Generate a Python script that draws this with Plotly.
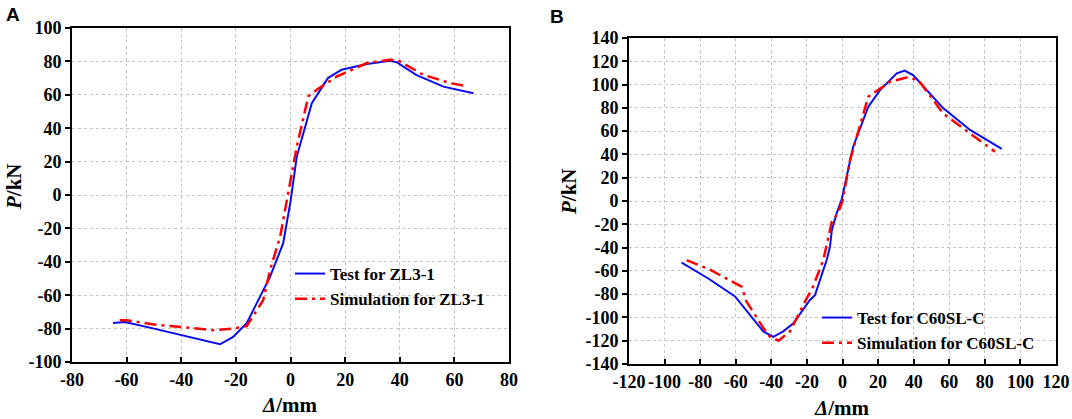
import plotly.graph_objects as go

# ---- Panel A data (ZL3-1) ----
testA_x = [-65, -60.6, -50, -40, -25.8, -21, -16, -7.5, -2.7, 0, 2.3, 7.8, 13.7, 18.7, 28, 36.4, 39, 46, 56, 67]
testA_y = [-76.6, -76, -80, -84, -89.4, -85, -76.6, -49, -29, -4, 23, 55, 70, 75, 78.4, 80.4, 79.4, 71.9, 64.9, 60.9]
simA_x = [-62.5, -60, -50, -40, -28, -21, -16, -10, -7.5, -3.8, -1.4, 2.3, 6.5, 9.6, 17, 28, 36.4, 39.5, 48.6, 58.4, 65]
simA_y = [-75, -75, -77.5, -79, -81, -80, -78.5, -63, -45, -25, -3, 29, 59, 63, 71, 79, 81, 80.5, 72, 67, 65]

# ---- Panel B data (C60SL-C) ----
testB_x = [-90.4, -75, -60.4, -44.5, -38.9, -33.3, -27.6, -18.3, -15.5, -8.9, -7, -6, -3.3, -0.5, 6, 14.5, 21, 30.5, 35, 39.8, 56.7, 71.7, 89.5]
testB_y = [-53, -67, -82, -112, -116.6, -112, -105, -85, -81, -50.7, -39, -25, -10.6, 0.9, 46.6, 81, 95, 109.7, 112, 108, 79.6, 61, 44.7]
simB_x = [-87.6, -74.5, -56.7, -53.9, -44.5, -40.8, -36, -29.5, -19.2, -17.3, -10.8, -6, -2.4, 0, 4.2, 14.5, 26.7, 36, 42.6, 56.7, 71.7, 85.7]
simB_y = [-50.7, -59, -73.6, -86.5, -109, -116.6, -120, -112, -80.8, -76.5, -50.7, -17.8, -10, 0, 35, 89.6, 102.4, 106, 104, 75, 58, 42.4]

names_A = ["Test for ZL3-1", "Simulation for ZL3-1"]
names_B = ["Test for C60SL-C", "Simulation for C60SL-C"]

# tick values (labels use plain hyphen-minus as in the original)
ticksA_x = list(range(-80, 81, 20))
ticksA_y = list(range(-100, 101, 20))
ticksB_x = list(range(-120, 121, 20))
ticksB_y = list(range(-140, 141, 20))

W, H = 1072, 419
BLUE = "#0a0af0"
RED = "#ff0000"
SERIF = "Liberation Serif"

fig = go.Figure()
fig.add_trace(go.Scatter(x=testA_x, y=testA_y, mode="lines", name=names_A[0],
                         line=dict(color=BLUE, width=2), xaxis="x", yaxis="y", legend="legend"))
fig.add_trace(go.Scatter(x=simA_x, y=simA_y, mode="lines", name=names_A[1],
                         line=dict(color=RED, width=2.5, dash="12px,5px,3px,5px"), xaxis="x", yaxis="y", legend="legend"))
fig.add_trace(go.Scatter(x=testB_x, y=testB_y, mode="lines", name=names_B[0],
                         line=dict(color=BLUE, width=2), xaxis="x2", yaxis="y2", legend="legend2"))
fig.add_trace(go.Scatter(x=simB_x, y=simB_y, mode="lines", name=names_B[1],
                         line=dict(color=RED, width=2.5, dash="12px,5px,3px,5px"), xaxis="x2", yaxis="y2", legend="legend2"))

tickfont = dict(family=SERIF, size=18, color="black", weight="bold")
common = dict(showline=True, linecolor="black", linewidth=2, mirror=True,
              showgrid=True, gridcolor="#c4c4c4", gridwidth=1, griddash="dot",
              zeroline=False, tickfont=tickfont, ticklen=5, tickwidth=2, tickcolor="black",
              automargin=False, tickangle=0, tickmode="array")

def lab(v):
    return [str(t) for t in v]

def px_x(p):
    return p / W

def px_y(p):
    return 1 - p / H

legfont = dict(family=SERIF, size=17, color="black", weight="bold")

fig.update_layout(
    width=W, height=H,
    margin=dict(l=0, r=0, t=0, b=0),
    paper_bgcolor="white", plot_bgcolor="white",
    xaxis=dict(domain=[px_x(72), px_x(509)], range=[-80, 80], tickvals=ticksA_x, ticktext=lab(ticksA_x),
               ticks="inside", anchor="y", **common),
    yaxis=dict(domain=[px_y(362), px_y(28)], range=[-100, 100], tickvals=ticksA_y, ticktext=lab(ticksA_y),
               ticks="outside", anchor="x", **common),
    xaxis2=dict(domain=[px_x(629), px_x(1056)], range=[-120, 120], tickvals=ticksB_x, ticktext=lab(ticksB_x),
                ticks="inside", anchor="y2", **common),
    yaxis2=dict(domain=[px_y(364), px_y(38)], range=[-140, 140], tickvals=ticksB_y, ticktext=lab(ticksB_y),
                ticks="outside", anchor="x2", **common),
    legend=dict(x=px_x(290), y=px_y(256), xanchor="left", yanchor="top",
                bgcolor="rgba(0,0,0,0)", tracegroupgap=0, font=legfont),
    legend2=dict(x=px_x(817), y=px_y(300), xanchor="left", yanchor="top",
                 bgcolor="rgba(0,0,0,0)", tracegroupgap=0, font=legfont),
    showlegend=True,
)

title_font = dict(family=SERIF, size=21, color="black")
annots = [
    dict(text="<b>A</b>", x=px_x(13), y=px_y(14), font=dict(family="Liberation Sans", size=19, color="black")),
    dict(text="<b>B</b>", x=px_x(557), y=px_y(16), font=dict(family="Liberation Sans", size=19, color="black")),
    dict(text="<b><i>Δ</i>/mm</b>", x=px_x(290), y=px_y(405), font=title_font),
    dict(text="<b><i>Δ</i>/mm</b>", x=px_x(842), y=px_y(408), font=title_font),
    dict(text="<b><i>P</i>/kN</b>", x=px_x(14), y=px_y(187), font=title_font, textangle=-90),
    dict(text="<b><i>P</i>/kN</b>", x=px_x(569), y=px_y(192), font=title_font, textangle=-90),
]
for a in annots:
    fig.add_annotation(xref="paper", yref="paper", showarrow=False,
                       xanchor="center", yanchor="middle", **a)

fig.write_html("out.html", config={"displayModeBar": False},
               post_script="document.body.style.margin='0';document.body.style.overflow='hidden';")
